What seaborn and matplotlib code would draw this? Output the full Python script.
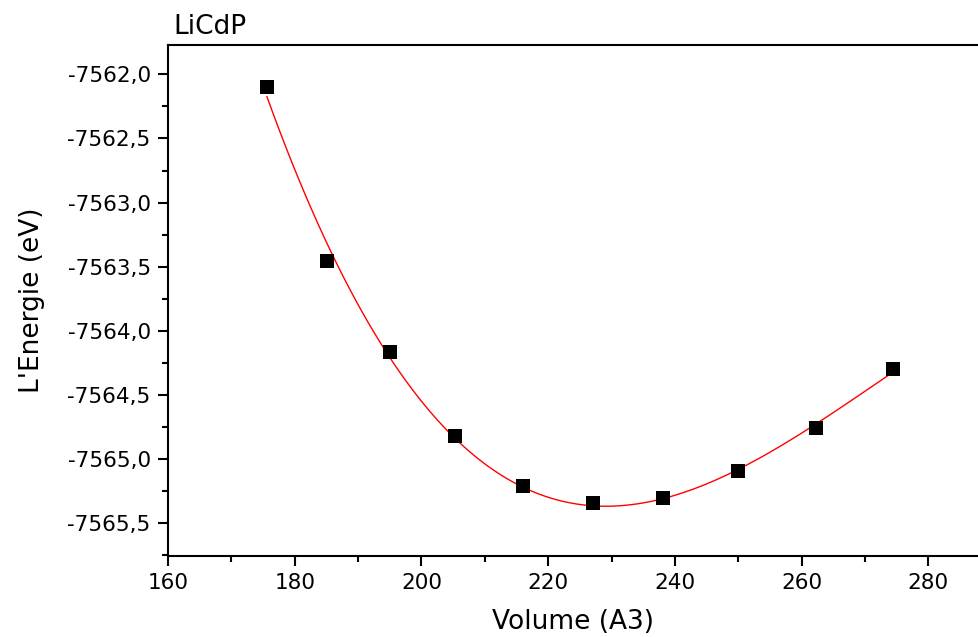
import numpy as np
import pandas as pd
import matplotlib
matplotlib.use("Agg")
import matplotlib.pyplot as plt
from matplotlib.ticker import FuncFormatter, MultipleLocator
import seaborn as sns

volume = [175.6, 185.1, 195.0, 205.3, 216.0, 227.0, 238.2, 250.0, 262.2, 274.5]
energy = [-7562.10, -7563.46, -7564.17, -7564.82, -7565.21, -7565.35, -7565.31, -7565.10, -7564.76, -7564.30]
title = "LiCdP"
xlabel = "Volume (A3)"
ylabel = "L'Energie (eV)"

df = pd.DataFrame({"V": volume, "E": energy})

sns.set_style("ticks")
plt.rcParams['font.family'] = ['DejaVu Sans']
plt.rcParams['text.color'] = 'black'
plt.rcParams['axes.labelcolor'] = 'black'

fig = plt.figure(figsize=(9.79, 6.37), dpi=100)
ax = fig.add_axes([168/979, 1-556/637, 1-168/979, (556-45)/637])

sns.regplot(data=df, x="V", y="E", order=3, ci=None, scatter=False,
            line_kws=dict(color="red", lw=1.0), ax=ax)
sns.scatterplot(data=df, x="V", y="E", marker="s", s=110, color="black",
                edgecolor="black", linewidth=0, ax=ax, zorder=3)

ax.set_xlim(160, 288)
ax.set_ylim(-7565.76, -7561.77)
ax.xaxis.set_major_locator(MultipleLocator(20))
ax.xaxis.set_minor_locator(MultipleLocator(10))
ax.yaxis.set_major_locator(MultipleLocator(0.5))
ax.yaxis.set_minor_locator(MultipleLocator(0.25))
ax.yaxis.set_major_formatter(FuncFormatter(lambda v, p: f"{v:.1f}".replace(".", ",")))

ax.tick_params(which="major", direction="out", length=7.5, width=1.5, labelsize=15.5,
               colors="black", labelcolor="black", pad=5)
ax.tick_params(which="minor", direction="out", length=4, width=1.5, colors="black")

for s in ["left", "bottom", "top"]:
    ax.spines[s].set_visible(True)
    ax.spines[s].set_linewidth(1.5)
    ax.spines[s].set_color("black")
ax.spines["right"].set_visible(False)

ax.set_xlabel(xlabel, fontsize=19, labelpad=11, color="black")
ax.set_ylabel(ylabel, fontsize=19, labelpad=16, color="black")
fig.text(173/979, 1-34/637, title, fontsize=19, ha="left", va="baseline", color="black")

fig.savefig("out.png", dpi=100)
